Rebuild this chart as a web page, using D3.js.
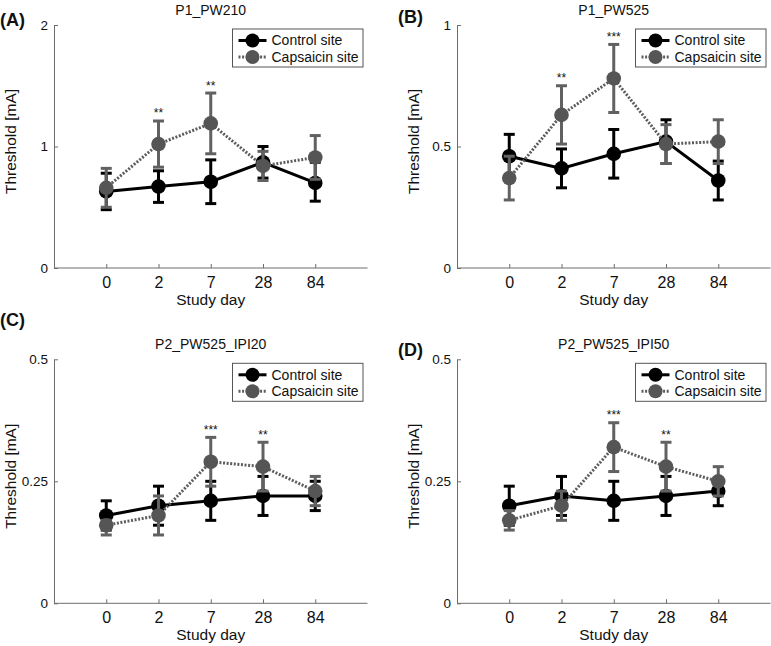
<!DOCTYPE html>
<html>
<head>
<meta charset="utf-8">
<script src="https://cdn.jsdelivr.net/npm/d3@7/dist/d3.min.js"></script>
<style>
  html, body { margin: 0; padding: 0; background: #fff; }
  svg { display: block; }
  text { font-family: "Liberation Sans", Arial, sans-serif; fill: #111; }
</style>
</head>
<body>
<svg id="chart" width="771" height="646"></svg>
<script>
// ---------- data ----------
const days = ["0", "2", "7", "28", "84"];
const seriesNames = ["Control site", "Capsaicin site"];

const panelLabels = ["(A)", "(B)", "(C)", "(D)"];
const panelTitles = ["P1_PW210", "P1_PW525", "P2_PW525_IPI20", "P2_PW525_IPI50"];
const yMaxes = [2, 1, 0.5, 0.5];
const yTickValues = [[0, 1, 2], [0, 0.5, 1], [0, 0.25, 0.5], [0, 0.25, 0.5]];

// Panel A: P1_PW210
const controlA      = [0.63, 0.67, 0.71, 0.87, 0.70];
const controlA_lo   = [0.48, 0.54, 0.53, 0.74, 0.55];
const controlA_hi   = [0.78, 0.80, 0.89, 1.00, 0.87];
const capsA         = [0.66, 1.02, 1.19, 0.84, 0.91];
const capsA_lo      = [0.50, 0.83, 0.94, 0.72, 0.73];
const capsA_hi      = [0.82, 1.21, 1.44, 0.96, 1.09];
const starsA        = ["", "**", "**", "", ""];

// Panel B: P1_PW525
const controlB      = [0.46, 0.41, 0.47, 0.52, 0.36];
const controlB_lo   = [0.37, 0.33, 0.37, 0.43, 0.28];
const controlB_hi   = [0.55, 0.49, 0.57, 0.61, 0.44];
const capsB         = [0.37, 0.63, 0.78, 0.51, 0.52];
const capsB_lo      = [0.28, 0.51, 0.64, 0.43, 0.43];
const capsB_hi      = [0.46, 0.75, 0.92, 0.59, 0.61];
const starsB        = ["", "**", "***", "", ""];

// Panel C: P2_PW525_IPI20
const controlC      = [0.18, 0.20, 0.21, 0.22, 0.22];
const controlC_lo   = [0.15, 0.16, 0.17, 0.18, 0.19];
const controlC_hi   = [0.21, 0.24, 0.25, 0.26, 0.25];
const capsC         = [0.16, 0.18, 0.29, 0.28, 0.23];
const capsC_lo      = [0.14, 0.14, 0.24, 0.23, 0.20];
const capsC_hi      = [0.17, 0.22, 0.34, 0.33, 0.26];
const starsC        = ["", "", "***", "**", ""];

// Panel D: P2_PW525_IPI50
const controlD      = [0.20, 0.22, 0.21, 0.22, 0.23];
const controlD_lo   = [0.16, 0.18, 0.17, 0.18, 0.20];
const controlD_hi   = [0.24, 0.26, 0.25, 0.26, 0.25];
const capsD         = [0.17, 0.20, 0.32, 0.28, 0.25];
const capsD_lo      = [0.15, 0.17, 0.27, 0.23, 0.22];
const capsD_hi      = [0.19, 0.23, 0.37, 0.33, 0.28];
const starsD        = ["", "", "***", "**", ""];

const panelData = [
  {control: controlA, cLo: controlA_lo, cHi: controlA_hi, caps: capsA, kLo: capsA_lo, kHi: capsA_hi, stars: starsA},
  {control: controlB, cLo: controlB_lo, cHi: controlB_hi, caps: capsB, kLo: capsB_lo, kHi: capsB_hi, stars: starsB},
  {control: controlC, cLo: controlC_lo, cHi: controlC_hi, caps: capsC, kLo: capsC_lo, kHi: capsC_hi, stars: starsC},
  {control: controlD, cLo: controlD_lo, cHi: controlD_hi, caps: capsD, kLo: capsD_lo, kHi: capsD_hi, stars: starsD}
];

// ---------- layout ----------
const boxes = [
  {left: 54,  right: 367.5, top: 25,    bottom: 268,   labelX: 0,   labelY: 26},
  {left: 457, right: 770.5, top: 25,    bottom: 268,   labelX: 398, labelY: 23},
  {left: 54,  right: 367.5, top: 359.3, bottom: 603.3, labelX: 0,   labelY: 326},
  {left: 457, right: 770.5, top: 359.3, bottom: 603.3, labelX: 398, labelY: 356}
];

const COL_CONTROL = "#000";
const COL_CAPS = "#555";
const COL_CAPS_BAR = "#616161";
const AXIS_COL = "#6e6e6e";

const svg = d3.select("#chart");

boxes.forEach((b, i) => {
  const d = panelData[i];
  const g = svg.append("g");

  const x = d3.scalePoint().domain(days).range([b.left, b.right]).padding(1);
  const y = d3.scaleLinear().domain([0, yMaxes[i]]).range([b.bottom, b.top]);

  // axes
  const xAxis = d3.axisBottom(x).tickSizeInner(-4).tickSizeOuter(0).tickPadding(8);
  const gx = g.append("g").attr("transform", `translate(0,${b.bottom})`).call(xAxis);
  gx.select(".domain").attr("stroke", AXIS_COL).attr("d", `M${b.left},0H${b.right}`);
  gx.selectAll(".tick line").attr("stroke", AXIS_COL);
  gx.selectAll(".tick text").attr("font-size", 16).attr("fill", "#111")
    .attr("font-family", "Liberation Sans, Arial, sans-serif").attr("dy", "0.72em");

  const yAxis = d3.axisLeft(y).tickValues(yTickValues[i]).tickFormat(d3.format("")).tickSizeInner(-4).tickSizeOuter(0).tickPadding(6);
  const gy = g.append("g").attr("transform", `translate(${b.left},0)`).call(yAxis);
  gy.select(".domain").attr("stroke", AXIS_COL);
  gy.selectAll(".tick line").attr("stroke", AXIS_COL);
  gy.selectAll(".tick text").attr("font-size", 13.5).attr("fill", "#111")
    .attr("font-family", "Liberation Sans, Arial, sans-serif");

  // title
  g.append("text").attr("x", (b.left + b.right) / 2).attr("y", b.top - 10)
    .attr("text-anchor", "middle").attr("font-size", 14).text(panelTitles[i]);
  // panel label
  g.append("text").attr("x", b.labelX).attr("y", b.labelY)
    .attr("font-size", 18).attr("font-weight", "bold").text(panelLabels[i]);
  // axis labels
  g.append("text").attr("x", (b.left + b.right) / 2).attr("y", b.bottom + 37)
    .attr("text-anchor", "middle").attr("font-size", 15.5).text("Study day");
  g.append("text")
    .attr("transform", `translate(${b.left - 38},${(b.top + b.bottom) / 2 - 5}) rotate(-90)`)
    .attr("text-anchor", "middle").attr("font-size", 15.5).text("Threshold [mA]");

  const drawSeries = (vals, lo, hi, col, barCol, dashed) => {
    const pts = days.map((dd, k) => ({day: dd, v: vals[k], lo: lo[k], hi: hi[k]}));
    // error bars
    const eb = g.append("g");
    pts.forEach(p => {
      const cx = x(p.day);
      eb.append("line").attr("x1", cx).attr("x2", cx).attr("y1", y(p.lo)).attr("y2", y(p.hi))
        .attr("stroke", barCol).attr("stroke-width", 3);
      [p.lo, p.hi].forEach(vv => {
        eb.append("line").attr("x1", cx - 5.5).attr("x2", cx + 5.5).attr("y1", y(vv)).attr("y2", y(vv))
          .attr("stroke", barCol).attr("stroke-width", 3);
      });
    });
    // line
    const line = d3.line().x(p => x(p.day)).y(p => y(p.v));
    const path = g.append("path").datum(pts).attr("d", line).attr("fill", "none")
      .attr("stroke", dashed ? "#5c5c5c" : col).attr("stroke-width", 3);
    if (dashed) path.attr("stroke-dasharray", "2,1.6");
    // markers
    g.append("g").selectAll("circle").data(pts).join("circle")
      .attr("cx", p => x(p.day)).attr("cy", p => y(p.v)).attr("r", 7.3).attr("fill", col);
  };

  drawSeries(d.control, d.cLo, d.cHi, COL_CONTROL, COL_CONTROL, false);
  drawSeries(d.caps, d.kLo, d.kHi, COL_CAPS, COL_CAPS_BAR, true);

  // significance stars
  days.forEach((dd, k) => {
    if (d.stars[k]) {
      g.append("text").attr("x", x(dd)).attr("y", y(d.kHi[k]) - 3.5)
        .attr("text-anchor", "middle").attr("font-size", 12).text(d.stars[k]);
    }
  });

  // legend
  const lw = 130.5, lh = 38;
  const lx = b.right - 4.5 - lw, ly = b.top + 4;
  const lg = g.append("g").attr("transform", `translate(${lx},${ly})`);
  lg.append("rect").attr("x", 0).attr("y", 0).attr("width", lw).attr("height", lh)
    .attr("fill", "#fff").attr("stroke", "#555").attr("stroke-width", 1);
  seriesNames.forEach((name, k) => {
    const ry = k === 0 ? 11.5 : 28;
    const col = k === 0 ? COL_CONTROL : COL_CAPS;
    const ln = lg.append("line").attr("x1", 6).attr("x2", 34).attr("y1", ry).attr("y2", ry)
      .attr("stroke", k === 0 ? col : "#5c5c5c").attr("stroke-width", 3);
    if (k === 1) ln.attr("stroke-dasharray", "2,1.6");
    lg.append("circle").attr("cx", 20).attr("cy", ry).attr("r", 7).attr("fill", col);
    lg.append("text").attr("x", 39).attr("y", ry).attr("dy", "0.35em")
      .attr("font-size", 14).text(name);
  });
});
</script>
</body>
</html>
